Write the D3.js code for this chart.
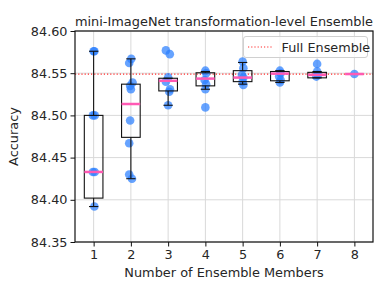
<!DOCTYPE html>
<html><head><meta charset="utf-8">
<script src="https://cdn.jsdelivr.net/npm/d3@7"></script>
<style>body{margin:0;background:#fff}svg{display:block}text{font-family:"DejaVu Sans",sans-serif;fill:#262626}</style>
</head><body>
<script>
const title = "mini-ImageNet transformation-level Ensemble";
const xLabel = "Number of Ensemble Members";
const yLabel = "Accuracy";
const members = [1, 2, 3, 4, 5, 6, 7, 8];
const yTicks = [84.35, 84.40, 84.45, 84.50, 84.55, 84.60];
const fullEnsemble = 84.549;
// box statistics
const whiskerLo = [84.392, 84.425, 84.512, 84.531, 84.537, 84.539, 84.5445, 84.549];
const q1 =        [84.402, 84.474, 84.529, 84.535, 84.540, 84.541, 84.5445, 84.549];
const median =    [84.433, 84.5135, 84.541, 84.5436, 84.5448, 84.5495, 84.548, 84.549];
const q3 =        [84.500, 84.537, 84.544, 84.5505, 84.553, 84.552, 84.551, 84.549];
const whiskerHi = [84.576, 84.567, 84.544, 84.552, 84.5627, 84.553, 84.552, 84.549];
// individual runs per group
const runs = [
  [84.576, 84.576, 84.500, 84.500, 84.433, 84.433, 84.392],
  [84.567, 84.562, 84.539, 84.535, 84.531, 84.494, 84.467, 84.430, 84.425],
  [84.577, 84.5726, 84.545, 84.540, 84.531, 84.528, 84.512],
  [84.553, 84.550, 84.542, 84.537, 84.531, 84.5095],
  [84.5638, 84.556, 84.548, 84.545, 84.540, 84.536],
  [84.553, 84.550, 84.546, 84.542, 84.539],
  [84.561, 84.552, 84.548, 84.546],
  [84.549]
];
// horizontal jitter (in member units)
const jitter = [
  [0, 0.02, -0.02, 0.03, -0.02, 0.03, 0.02],
  [0.01, -0.045, 0.045, -0.02, 0, -0.02, -0.045, -0.045, 0.03],
  [-0.06, 0.045, 0, -0.06, 0.05, 0.03, 0],
  [0, 0.02, -0.02, 0.02, 0, 0],
  [0, 0.02, -0.02, 0.02, 0, 0.02],
  [0, 0.02, -0.02, 0.02, 0],
  [0, 0, 0.02, -0.02],
  [0]
];

const W = 388, H = 295;
const m = {left: 75, right: 15, top: 31, bottom: 53};
const svg = d3.select("body").append("svg").attr("width", W).attr("height", H);
const x = d3.scaleLinear().domain([0.5, 8.5]).range([m.left, W - m.right]);
const y = d3.scaleLinear().domain([84.35, 84.60]).range([H - m.bottom, m.top]);

// grid
const g = svg.append("g");
g.selectAll(".gx").data(members).join("line")
  .attr("x1", d => x(d)).attr("x2", d => x(d)).attr("y1", y(84.60)).attr("y2", y(84.35))
  .attr("stroke", "#d9d9d9").attr("stroke-width", 1);
g.selectAll(".gy").data(yTicks).join("line")
  .attr("y1", d => y(d)).attr("y2", d => y(d)).attr("x1", x(0.5)).attr("x2", x(8.5))
  .attr("stroke", "#d9d9d9").attr("stroke-width", 1);

// full ensemble line
svg.append("line").attr("x1", x(0.5)).attr("x2", x(8.5))
  .attr("y1", y(fullEnsemble)).attr("y2", y(fullEnsemble))
  .attr("stroke", "#ff2a2a").attr("stroke-width", 1.2).attr("stroke-dasharray", "1.2,2");

// points
members.forEach((mb, i) => {
  svg.append("g").selectAll("circle").data(runs[i]).join("circle")
    .attr("cx", (d, j) => x(mb + jitter[i][j])).attr("cy", d => y(d)).attr("r", 4.3)
    .attr("fill", "#2b7fff").attr("fill-opacity", 0.72);
});

// boxes
const bw = 0.5;
members.forEach((mb, i) => {
  const gb = svg.append("g").attr("stroke", "#111").attr("stroke-width", 1.1).attr("fill", "none");
  gb.append("line").attr("x1", x(mb)).attr("x2", x(mb)).attr("y1", y(whiskerLo[i])).attr("y2", y(q1[i]));
  gb.append("line").attr("x1", x(mb)).attr("x2", x(mb)).attr("y1", y(q3[i])).attr("y2", y(whiskerHi[i]));
  gb.append("line").attr("x1", x(mb - bw / 4)).attr("x2", x(mb + bw / 4)).attr("y1", y(whiskerLo[i])).attr("y2", y(whiskerLo[i]));
  gb.append("line").attr("x1", x(mb - bw / 4)).attr("x2", x(mb + bw / 4)).attr("y1", y(whiskerHi[i])).attr("y2", y(whiskerHi[i]));
  gb.append("rect").attr("x", x(mb - bw / 2)).attr("width", x(mb + bw / 2) - x(mb - bw / 2))
    .attr("y", y(q3[i])).attr("height", y(q1[i]) - y(q3[i]));
  svg.append("line").attr("x1", x(mb - bw / 2)).attr("x2", x(mb + bw / 2))
    .attr("y1", y(median[i])).attr("y2", y(median[i]))
    .attr("stroke", "#ff5ab4").attr("stroke-width", 2.5);
});

// axes
const xa = svg.append("g").attr("transform", `translate(0,${H - m.bottom})`)
  .call(d3.axisBottom(x).tickValues(members).tickSize(4.5).tickPadding(3).tickFormat(d3.format("d")));
const ya = svg.append("g").attr("transform", `translate(${m.left},0)`)
  .call(d3.axisLeft(y).tickValues(yTicks).tickSize(4.5).tickPadding(3).tickFormat(d3.format(".2f")));
[xa, ya].forEach(a => {
  a.select(".domain").remove();
  a.selectAll("line").attr("stroke", "#111");
  a.selectAll("text").attr("font-size", 12.8).attr("font-family", "DejaVu Sans").attr("fill", "#262626");
});
// frame
svg.append("rect").attr("x", x(0.5)).attr("y", y(84.60)).attr("width", x(8.5) - x(0.5)).attr("height", y(84.35) - y(84.60))
  .attr("fill", "none").attr("stroke", "#111").attr("stroke-width", 1.2);

// legend
const lg = svg.append("g");
lg.append("rect").attr("x", 243.5).attr("y", 36.5).attr("width", 124).attr("height", 21).attr("rx", 2.5)
  .attr("fill", "#fff").attr("fill-opacity", 0.8).attr("stroke", "#d0d0d0");
lg.append("line").attr("x1", 248).attr("x2", 272).attr("y1", 47).attr("y2", 47)
  .attr("stroke", "#ff2a2a").attr("stroke-width", 1.2).attr("stroke-dasharray", "1.2,2");
lg.append("text").attr("x", 281.5).attr("y", 51.5).attr("font-size", 12.8).text("Full Ensemble");

// titles
svg.append("text").attr("x", (x(0.5) + x(8.5)) / 2).attr("y", 25.5).attr("text-anchor", "middle")
  .attr("font-size", 12.9).text(title);
svg.append("text").attr("x", (x(0.5) + x(8.5)) / 2).attr("y", 277).attr("text-anchor", "middle")
  .attr("font-size", 12.9).text(xLabel);
svg.append("text").attr("transform", `translate(18,${(y(84.35) + y(84.60)) / 2}) rotate(-90)`)
  .attr("text-anchor", "middle").attr("font-size", 12.9).text(yLabel);
</script>
</body></html>
